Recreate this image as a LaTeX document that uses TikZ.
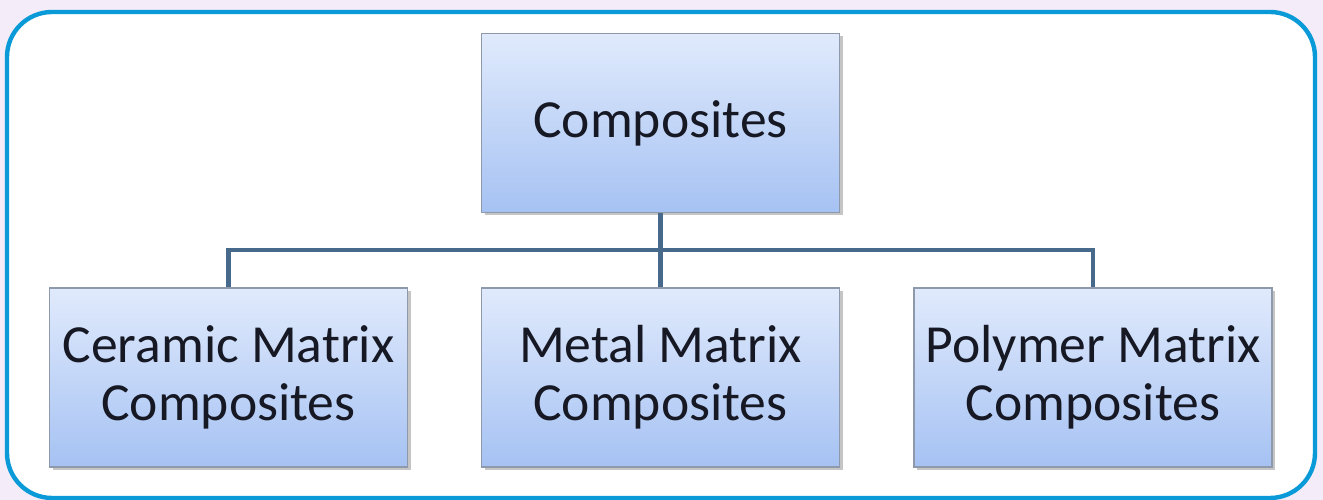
\documentclass[tikz,border=0pt]{standalone}
\usepackage{fontspec}
\setmainfont{Carlito}
\usetikzlibrary{shadows,calc}

\definecolor{framecol}{HTML}{0A9AD8}
\definecolor{backcol}{HTML}{F4ECF9}
\definecolor{linkcol}{HTML}{46698C}
\definecolor{boxtop}{HTML}{E0EAFC}
\definecolor{boxbot}{HTML}{A6C2F3}
\definecolor{boxrim}{HTML}{8E9AAC}
\definecolor{inkcol}{HTML}{161824}

\begin{document}
\begin{tikzpicture}[>=latex]
    \tikzstyle{kind}=[rectangle, minimum width=7.16cm, minimum height=3.58cm, draw=boxrim, line width=0.8pt, top color=boxtop, bottom color=boxbot, align=center, text=inkcol, font=\fontsize{30.5}{33}\selectfont, drop shadow={shadow xshift=0.06cm, shadow yshift=-0.06cm, fill=black!45, opacity=0.5}]
    \tikzstyle{link}=[draw=linkcol, line width=2.3pt]
    % page and frame
    \fill[backcol] (0,0) rectangle (26.46,10);
    \useasboundingbox (0,0) rectangle (26.46,10);
    \draw[framecol, fill=white, line width=2.5pt, rounded corners=0.9cm] (0.14,9.76) rectangle (26.3,0.04);
    % boxes
    \node[kind] (comp) at (13.21,7.54) {Composites};
    \node[kind] (cmc) at (4.57,2.45) {Ceramic Matrix\\Composites};
    \node[kind] (mmc) at (13.21,2.45) {Metal Matrix\\Composites};
    \node[kind] (pmc) at (21.86,2.45) {Polymer Matrix\\Composites};
    % connectors
    \coordinate (bar) at ($(comp.south)!0.5!(mmc.north)$);
    \draw[link] (comp.south) -- (mmc.north);
    \draw[link] (bar) -| (cmc.north);
    \draw[link] (bar) -| (pmc.north);
\end{tikzpicture}
\end{document}
